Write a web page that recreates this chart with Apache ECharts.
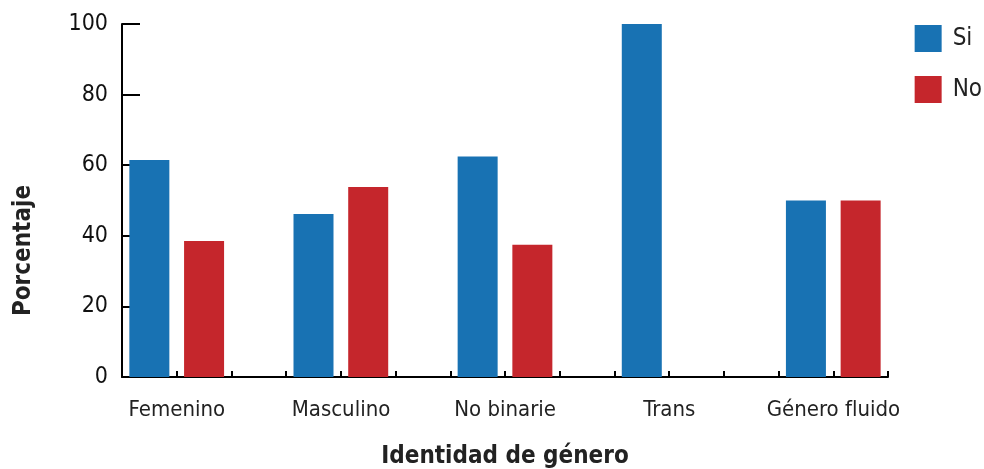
<!DOCTYPE html>
<html lang="es">
<head>
<meta charset="utf-8">
<title>Identidad de género</title>
<script src="https://cdn.jsdelivr.net/npm/echarts@6/dist/echarts.min.js"></script>
<style>
  html, body { margin: 0; padding: 0; background: #fff; }
  #main { width: 984px; height: 469px; }
</style>
</head>
<body>
<div id="main"></div>
<script>
var categories = ['Femenino', 'Masculino', 'No binarie', 'Trans', 'Género fluido'];
var si = [61.5, 46.2, 62.5, 100, 50];
var no = [38.5, 53.8, 37.5, 0, 50];
var yTicks = [0, 20, 40, 60, 80, 100];

var FONT = '"Liberation Sans Narrow", "DejaVu Sans Condensed", "Noto Sans", sans-serif';

// each group gets three slots (Si, No, gap), the last one has no gap
var slots = categories.length * 3 - 1;
var slotNames = [], siData = [], noData = [];
for (var i = 0; i < slots; i++) {
  var g = Math.floor(i / 3), k = i % 3;
  slotNames.push(k === 0 ? categories[g] : '');
  siData.push(k === 0 ? si[g] : null);
  noData.push(k === 1 ? no[g] : null);
}

var chart = echarts.init(document.getElementById('main'), null, {renderer: 'canvas'});
chart.setOption({
  animation: false,
  textStyle: {fontFamily: FONT},
  grid: {left: 122, right: 96, top: 24, bottom: 92, containLabel: false, outerBoundsMode: 'none'},
  legend: {
    orient: 'vertical',
    right: 2, top: 25, padding: 0,
    icon: 'rect',
    itemWidth: 27, itemHeight: 27, itemGap: 24,
    textStyle: {fontSize: 24, color: '#222', fontFamily: FONT, padding: [0, 0, 0, 6]},
    data: ['Si', 'No']
  },
  xAxis: {
    type: 'category',
    data: slotNames,
    name: 'Identidad de género',
    nameLocation: 'middle',
    nameGap: 68,
    nameTextStyle: {fontSize: 24, fontWeight: 'bold', color: '#222', fontFamily: FONT},
    axisLine: {lineStyle: {color: '#000', width: 2}},
    axisTick: {show: true, inside: true, length: 6, interval: 0, lineStyle: {color: '#000', width: 2}},
    axisLabel: {
      interval: function (idx) { return idx % 3 === 0; },
      fontSize: 22, color: '#222', margin: 22,
      padding: [0, 0, 0, 55]
    }
  },
  yAxis: {
    type: 'value',
    min: 0, max: 100, interval: 20,
    name: 'Porcentaje',
    nameLocation: 'middle',
    nameGap: 86,
    nameTextStyle: {fontSize: 24, fontWeight: 'bold', color: '#222', fontFamily: FONT, padding: [0, 100, 0, 0]},
    axisLine: {show: true, lineStyle: {color: '#000', width: 2}},
    axisTick: {show: true, inside: true, length: 18, lineStyle: {color: '#000', width: 2}},
    axisLabel: {fontSize: 23, color: '#111', margin: 14},
    splitLine: {show: false}
  },
  series: [
    {name: 'Si', type: 'bar', data: siData, barWidth: 40, barGap: '-100%', itemStyle: {color: '#1872b3'}},
    {name: 'No', type: 'bar', data: noData, barWidth: 40, itemStyle: {color: '#c5262c'}}
  ]
});
</script>
</body>
</html>
